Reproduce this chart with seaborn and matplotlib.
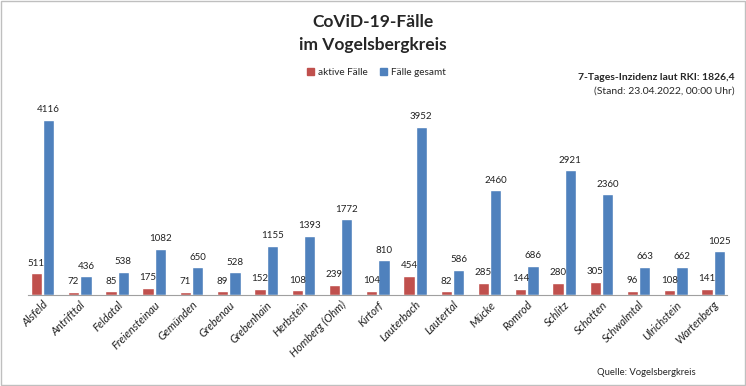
import pandas as pd
import matplotlib.pyplot as plt
import seaborn as sns
from matplotlib.patches import Rectangle

orte = ["Alsfeld", "Antrifttal", "Feldatal", "Freiensteinau", "Gemünden", "Grebenau",
        "Grebenhain", "Herbstein", "Homberg (Ohm)", "Kirtorf", "Lauterbach", "Lautertal",
        "Mücke", "Romrod", "Schlitz", "Schotten", "Schwalmtal", "Ulrichstein", "Wartenberg"]
aktive = [511, 72, 85, 175, 71, 89, 152, 108, 239, 104, 454, 82, 285, 144, 280, 305, 96, 108, 141]
gesamt = [4116, 436, 538, 1082, 650, 528, 1155, 1393, 1772, 810, 3952, 586, 2460, 686, 2921, 2360, 663, 662, 1025]
serien = ["aktive Fälle", "Fälle gesamt"]
farben = ["#C0504D", "#4F81BD"]

sns.set_style("white")
plt.rcParams["font.family"] = ["Lato", "DejaVu Sans"]

df = pd.DataFrame({
    "Ort": orte * 2,
    "Fälle": aktive + gesamt,
    "Serie": [serien[0]] * len(orte) + [serien[1]] * len(orte),
})

fig = plt.figure(figsize=(7.46, 3.86), dpi=100)
ax = fig.add_axes([0.0375, 0.2358, 0.9375, 0.497])
sns.barplot(data=df, x="Ort", y="Fälle", hue="Serie", palette=farben,
            width=0.66, gap=0.08, ax=ax, legend=False, saturation=1)

for cont in ax.containers:
    ax.bar_label(cont, padding=4, fontsize=7, color="#222222")

ax.set_xlim(-0.39, 18.38)
ax.set_ylim(0, 4500)
ax.set_xlabel("")
ax.set_ylabel("")
ax.set_yticks([])
for s in ["left", "right", "top"]:
    ax.spines[s].set_visible(False)
ax.spines["bottom"].set_color("#A0A0A0")
ax.tick_params(axis="x", length=0, pad=3)
plt.setp(ax.get_xticklabels(), rotation=45, ha="right", rotation_mode="anchor",
         fontstyle="italic", fontsize=8, color="#222222")

fig.text(0.5, 0.943, "CoViD-19-Fälle", ha="center", va="center",
         fontsize=12.5, fontweight="bold")
fig.text(0.5, 0.883, "im Vogelsbergkreis", ha="center", va="center",
         fontsize=12.5, fontweight="bold")

# legend
handles = [Rectangle((0, 0), 1, 1, color=c) for c in farben]
fig.legend(handles, serien, loc="center", bbox_to_anchor=(0.505, 0.813), ncol=2,
           frameon=False, fontsize=7.2, handlelength=0.7, handleheight=0.7,
           handletextpad=0.4, columnspacing=1.2)

fig.text(0.985, 0.80, "7-Tages-Inzidenz laut RKI: 1826,4", ha="right", va="center",
         fontsize=7.5, fontweight="bold")
fig.text(0.985, 0.765, "(Stand: 23.04.2022, 00:00 Uhr)", ha="right", va="center",
         fontsize=7.5)
fig.text(0.80, 0.034, "Quelle: Vogelsbergkreis", ha="left", va="center", fontsize=6.8)

fig.patches.append(Rectangle((0.002, 0.003), 0.996, 0.994, transform=fig.transFigure,
                             fill=False, edgecolor="#BFBFBF", linewidth=1))

fig.savefig("out.png", dpi=100)
